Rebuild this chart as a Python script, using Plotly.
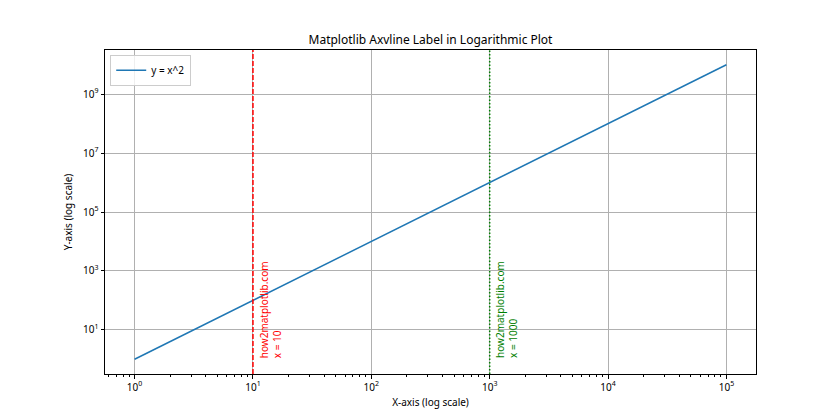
import math
import plotly.graph_objects as go

# Data
x_values = [1, 10, 100, 1000, 10000, 100000]
y_values = [1, 100, 1e4, 1e6, 1e8, 1e10]
series_name = "y = x^2"

vline_x = [10, 1000]
vline_colors = ["red", "green"]
vline_dashes = ["5px,2px", "1.5px,2px"]
vline_texts = ["how2matplotlib.com<br>x = 10", "how2matplotlib.com<br>x = 1000"]

x_tick_vals = [1, 10, 100, 1000, 10000, 100000]
x_tick_text = ["10<sup>0</sup>", "10<sup>1</sup>", "10<sup>2</sup>", "10<sup>3</sup>", "10<sup>4</sup>", "10<sup>5</sup>"]
y_tick_vals = [10, 1e3, 1e5, 1e7, 1e9]
y_tick_text = ["10<sup>1</sup>", "10<sup>3</sup>", "10<sup>5</sup>", "10<sup>7</sup>", "10<sup>9</sup>"]

x_range = [-0.25, 5.25]
y_range = [-0.5, 10.5]

FONT = "Noto Sans, DejaVu Sans, sans-serif"

fig = go.Figure()
fig.add_trace(go.Scatter(x=x_values, y=y_values, mode="lines", name=series_name,
                         line=dict(color="#1f77b4", width=1.5)))

for xv, c, d in zip(vline_x, vline_colors, vline_dashes):
    fig.add_trace(go.Scatter(x=[xv, xv], y=[10 ** y_range[0], 10 ** y_range[1]], mode="lines",
                             line=dict(color=c, width=1.5, dash=d), showlegend=False, hoverinfo="skip"))

for xv, c, t in zip(vline_x, vline_colors, vline_texts):
    fig.add_annotation(x=math.log10(xv * 1.06), y=0, xref="x", yref="y", text=t,
                       textangle=-90, showarrow=False, xanchor="left", yanchor="bottom",
                       align="left", font=dict(color=c, size=10, family=FONT),
                       borderpad=0)

minor_vals = [m * 10 ** e for e in range(-1, 6) for m in range(2, 10)]

fig.update_layout(
    width=840, height=420,
    margin=dict(l=97, r=92, t=42, b=54),
    paper_bgcolor="white", plot_bgcolor="white",
    font=dict(family=FONT, size=10, color="black"),
    title=dict(text="Matplotlib Axvline Label in Logarithmic Plot", x=(97 + 748) / 2 / 840, xanchor="center",
               y=1 - 32 / 420, yanchor="middle", font=dict(size=12, color="black")),
    showlegend=True,
    legend=dict(x=0.008, y=0.985, xanchor="left", yanchor="top", bgcolor="rgba(255,255,255,0.8)",
                bordercolor="#cccccc", borderwidth=1, font=dict(size=10), itemwidth=30),
)

fig.update_xaxes(type="log", range=x_range, tickvals=x_tick_vals, ticktext=x_tick_text,
                 showgrid=True, gridcolor="#b0b0b0", gridwidth=0.8,
                 showline=True, mirror=True, linecolor="black", linewidth=1,
                 ticks="outside", ticklen=3.5, tickcolor="black", zeroline=False,
                 minor=dict(tickvals=minor_vals, ticks="outside", ticklen=2, tickcolor="black", showgrid=False),
                 title=dict(text="X-axis (log scale)", standoff=6, font=dict(size=10)))
fig.update_yaxes(type="log", range=y_range, tickvals=y_tick_vals, ticktext=y_tick_text,
                 showgrid=True, gridcolor="#b0b0b0", gridwidth=0.8,
                 showline=True, mirror=True, linecolor="black", linewidth=1,
                 ticks="outside", ticklen=3.5, tickcolor="black", zeroline=False,
                 title=dict(text="Y-axis (log scale)", standoff=8, font=dict(size=10)))

fig.write_html("out.html")
